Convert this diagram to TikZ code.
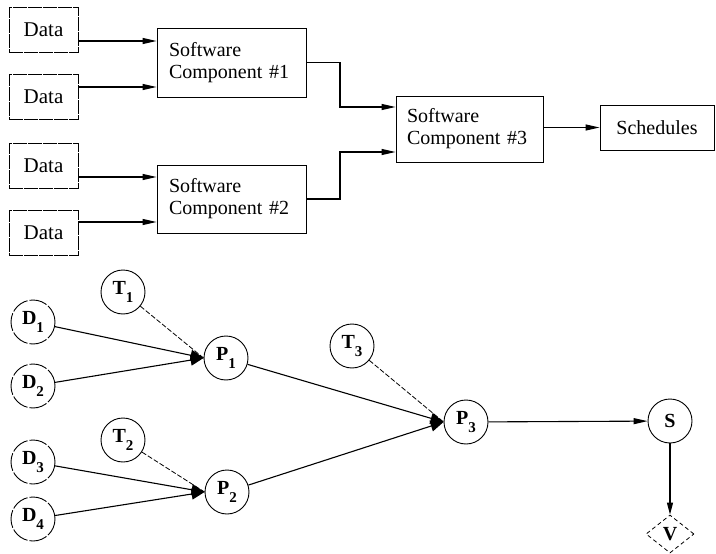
\documentclass[tikz,border=0pt]{standalone}
\usepackage{fontspec}
\setmainfont{Liberation Serif}
\usetikzlibrary{arrows.meta,shapes.geometric,calc}
\newcommand{\lbl}[2]{\textbf{#1\raisebox{-0.8ex}{\fontsize{15}{15}\selectfont #2}}}
\begin{document}
\begin{tikzpicture}[x=1pt,y=-1pt,
  txt/.style={font=\fontsize{20}{22}\selectfont},
  databox/.style={draw,line width=0.8pt,dash pattern=on 14pt off 1pt,minimum width=69pt,minimum height=45pt,inner sep=0pt,font=\fontsize{21}{22}\selectfont},
  compbox/.style={draw,line width=0.9pt,inner sep=0pt,txt,align=left},
  arr/.style={line width=1.1pt,-{Triangle[length=14pt,width=6pt]}},
  circ/.style={circle,draw,line width=0.9pt,minimum size=44pt,inner sep=0pt,font=\fontsize{20}{22}\selectfont},
  dcirc/.style={circ,dash pattern=on 18pt off 2pt},
  big/.style={line width=1.1pt,-{Triangle[length=13pt,width=11pt]}},
  tline/.style={line width=0.8pt,dash pattern=on 5pt off 2pt},
]
\useasboundingbox (0,0) rectangle (716,554);
% top diagram
\node[databox] (d1) at (43.5,29.5) {Data};
\node[databox] (d2) at (43.5,97) {Data};
\node[databox] (d3) at (43.5,165.5) {Data};
\node[databox] (d4) at (43.5,233) {Data};
\node[compbox,minimum width=149pt,minimum height=69pt,text width=125pt] (sc1) at (231.5,62.5) {Software\\Component \#1};
\node[compbox,minimum width=149pt,minimum height=68pt,text width=125pt] (sc2) at (231.5,199) {Software\\Component \#2};
\node[compbox,minimum width=147pt,minimum height=66pt,text width=125pt] (sc3) at (469.5,129) {Software\\Component \#3};
\node[compbox,minimum width=114pt,minimum height=45pt,align=center] (sch) at (657,127.5) {Schedules};
\coordinate (j) at (340,0);
\coordinate (a1) at ([yshift=-11.5pt]d1.east);
\coordinate (a2) at ([yshift=10pt]d2.east);
\coordinate (a3) at ([yshift=-11.5pt]d3.east);
\coordinate (a4) at ([yshift=11pt]d4.east);
\coordinate (b1) at ([yshift=22pt]sc3.west);
\coordinate (b2) at ([yshift=-23pt]sc3.west);
\draw[arr] (a1) -- (a1 -| sc1.west);
\draw[arr] (a2) -- (a2 -| sc1.west);
\draw[arr] (a3) -- (a3 -| sc2.west);
\draw[arr] (a4) -- (a4 -| sc2.west);
\draw[arr] (sc1.east) -- (sc1.east -| j) |- (b1);
\draw[arr] (sc2.east) -- (sc2.east -| j) |- (b2);
\draw[arr] (sc3.east |- sch.west) -- (sch.west);
% bottom diagram
\node[circ] (t1) at (123,292) {\lbl{T}{1}};
\node[dcirc] (dd1) at (33,322) {\lbl{D}{1}};
\node[dcirc] (dd2) at (33,386) {\lbl{D}{2}};
\node[circ] (t2) at (123,440) {\lbl{T}{2}};
\node[dcirc] (dd3) at (33,462) {\lbl{D}{3}};
\node[dcirc] (dd4) at (33,519) {\lbl{D}{4}};
\node[circ] (p1) at (226,358) {\lbl{P}{1}};
\node[circ] (p2) at (227,492) {\lbl{P}{2}};
\node[circ] (t3) at (352,346) {\lbl{T}{3}};
\node[circ] (p3) at (466,422) {\lbl{P}{3}};
\node[circ] (s) at (670,421) {\textbf{S}};
\node[diamond,draw,line width=0.8pt,dash pattern=on 4pt off 3pt,minimum width=48pt,minimum height=38pt,inner sep=0pt,font=\fontsize{20}{22}\selectfont] (v) at (670,534) {\textbf{V}};
\draw[big] (dd1) -- (p1.west);
\draw[big] (dd2) -- (p1.west);
\draw[tline] (t1) -- (p1.west);
\draw[big] (dd3) -- (p2.west);
\draw[big] (dd4) -- (p2.west);
\draw[tline] (t2) -- (p2.west);
\draw[big] (p1) -- (p3.west);
\draw[big] (p2) -- (p3.west);
\draw[tline] (t3) -- (p3.west);
\draw[arr] (p3) -- (s);
\draw[line width=1.1pt,-{Triangle[length=12pt,width=6pt]}] (s) -- (v);
\end{tikzpicture}
\end{document}
